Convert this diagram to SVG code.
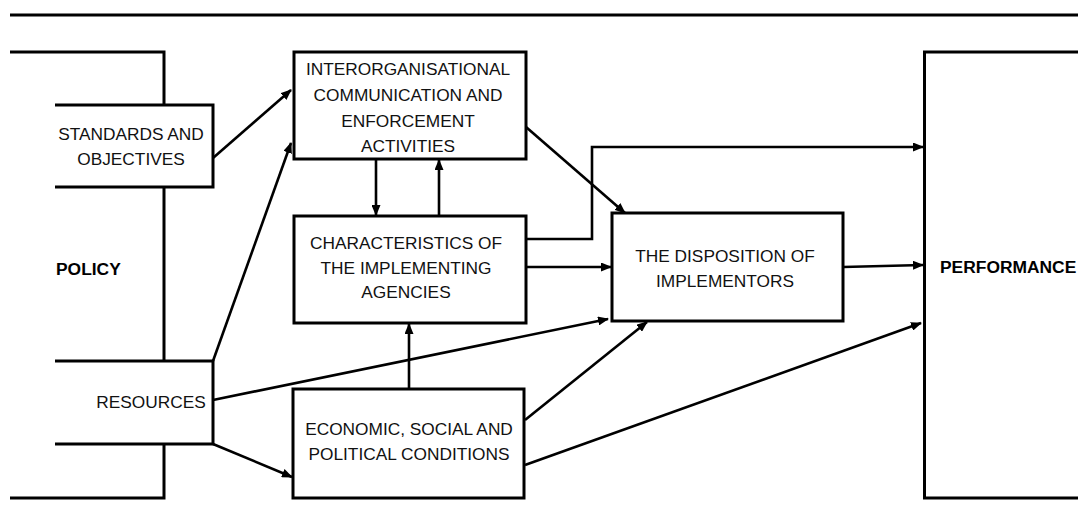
<svg xmlns="http://www.w3.org/2000/svg" width="1078" height="527" viewBox="0 0 1078 527">
<style>
.frame{fill:none;stroke:#000;stroke-width:3}
.box{fill:#fff;stroke:#000;stroke-width:3}
.conn{fill:none;stroke:#000;stroke-width:2.6;marker-end:url(#ah)}
.t{font-family:"Liberation Sans",Arial,sans-serif;font-size:17.3px;fill:#111;text-anchor:middle}
.b{font-family:"Liberation Sans",Arial,sans-serif;font-size:17.4px;font-weight:bold;fill:#000}
</style>
<defs>
<marker id="ah" markerUnits="userSpaceOnUse" markerWidth="11" markerHeight="9" refX="10" refY="4.5" orient="auto">
<path d="M0,0 L11,4.5 L0,9 z" fill="#000"/>
</marker>
</defs>
<rect width="1078" height="527" fill="#fff"/>
<path d="M10,15 H1078" stroke="#000" stroke-width="3"/>

<g id="policy">
<path class="frame" d="M10,52 H164 V105 M164,187 V361 M164,444 V498 H10"/>
<text class="b" x="56" y="275">POLICY</text>
</g>

<g id="standards">
<path class="frame" d="M55,105 H213 V187 H55"/>
<text class="t" x="131" y="140">STANDARDS AND</text>
<text class="t" x="131" y="165">OBJECTIVES</text>
</g>

<g id="resources">
<path class="frame" d="M55,361 H213 V444 H55"/>
<text class="t" x="151" y="408">RESOURCES</text>
</g>

<g id="interorg">
<rect class="box" x="294" y="52" width="232" height="107"/>
<text class="t" x="408" y="75">INTERORGANISATIONAL</text>
<text class="t" x="408" y="101">COMMUNICATION AND</text>
<text class="t" x="408" y="127">ENFORCEMENT</text>
<text class="t" x="408" y="152">ACTIVITIES</text>
</g>

<g id="characteristics">
<rect class="box" x="294" y="216" width="232" height="107"/>
<text class="t" x="406" y="249">CHARACTERISTICS OF</text>
<text class="t" x="406" y="274">THE IMPLEMENTING</text>
<text class="t" x="406" y="298">AGENCIES</text>
</g>

<g id="conditions">
<rect class="box" x="293" y="389" width="231" height="109"/>
<text class="t" x="409" y="435">ECONOMIC, SOCIAL AND</text>
<text class="t" x="409" y="460">POLITICAL CONDITIONS</text>
</g>

<g id="disposition">
<rect class="box" x="612" y="213" width="231" height="108"/>
<text class="t" x="725" y="262">THE DISPOSITION OF</text>
<text class="t" x="725" y="287">IMPLEMENTORS</text>
</g>

<g id="performance">
<path class="frame" d="M1082,52 H924.5 V498 H1082"/>
<text class="b" x="940" y="273">PERFORMANCE</text>
</g>

<g id="connectors">
<path class="conn" d="M213,158 L291,90"/>
<path class="conn" d="M213,361 L291,143"/>
<path class="conn" d="M213,400 L608,319"/>
<path class="conn" d="M213,444 L292,477"/>
<path class="conn" d="M376,159 L376,215"/>
<path class="conn" d="M439,216 L439,160"/>
<path class="conn" d="M526,127 L625,213"/>
<path class="conn" d="M526,239 H592 V147 H923"/>
<path class="conn" d="M526,267 L611,267"/>
<path class="conn" d="M409,389 L409,324"/>
<path class="conn" d="M525,420 L647,322"/>
<path class="conn" d="M525,465 L921,323"/>
<path class="conn" d="M843,267 L923,265"/>
</g>
</svg>
